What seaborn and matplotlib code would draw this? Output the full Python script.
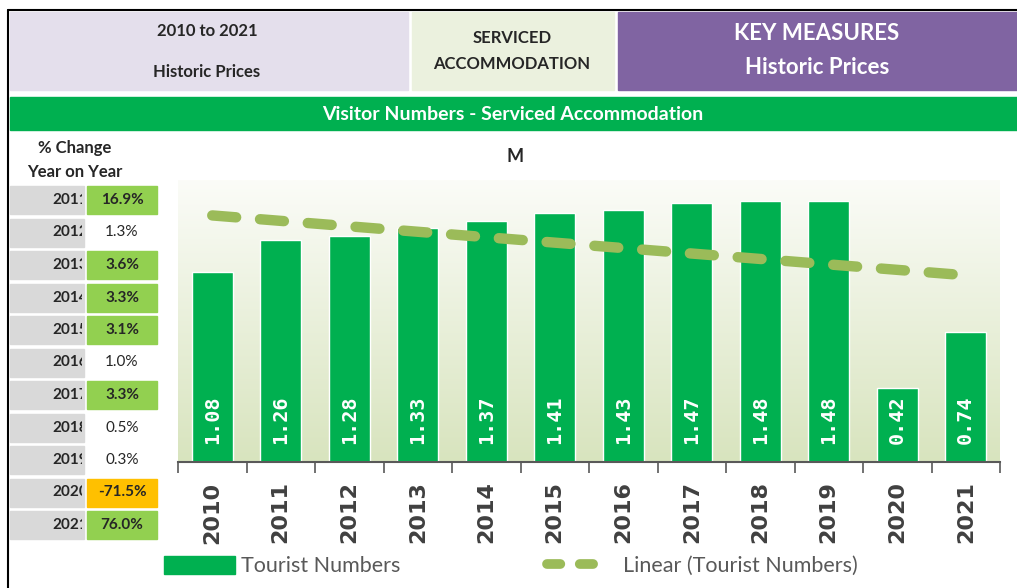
import numpy as np
import pandas as pd
import matplotlib
matplotlib.use("Agg")
import matplotlib.pyplot as plt
from matplotlib.patches import Rectangle, Patch
from matplotlib.lines import Line2D
from matplotlib.colors import LinearSegmentedColormap
import seaborn as sns

sns.set_style("white")

# data
years = ["2010", "2011", "2012", "2013", "2014", "2015", "2016", "2017", "2018", "2019", "2020", "2021"]
tourists = [1.08, 1.26, 1.28, 1.33, 1.37, 1.41, 1.43, 1.47, 1.48, 1.48, 0.42, 0.74]
change_years = ["2011", "2012", "2013", "2014", "2015", "2016", "2017", "2018", "2019", "2020", "2021"]
change_pct = [16.9, 1.3, 3.6, 3.3, 3.1, 1.0, 3.3, 0.5, 0.3, -71.5, 76.0]

GREEN = "#00B050"
LIGHT = "#92D050"
TREND = "#9BBB59"
HEAD = "Lato"

df = pd.DataFrame({"year": years, "tourists": tourists})

fig = plt.figure(figsize=(10.17, 5.88), dpi=100)

# canvas in pixel coords for the header boxes and the % change table
cv = fig.add_axes([0, 0, 1, 1])
cv.set_xlim(0, 1017)
cv.set_ylim(588, 0)
cv.axis("off")

cv.plot([8, 1017], [10, 10], color="black", lw=1.5)
cv.plot([8, 8], [10, 588], color="black", lw=1.5)

cv.add_patch(Rectangle((10, 12), 398, 78, color="#E4DFEC"))
cv.add_patch(Rectangle((412, 12), 202, 78, color="#EBF1DE"))
cv.add_patch(Rectangle((618, 12), 399, 78, color="#8064A2"))
cv.text(207, 31, "2010 to 2021", ha="center", va="center", fontsize=12, fontweight="bold", family=HEAD)
cv.text(207, 72, "Historic Prices", ha="center", va="center", fontsize=12, fontweight="bold", family=HEAD)
cv.text(512, 38, "SERVICED", ha="center", va="center", fontsize=12, fontweight="bold", family=HEAD)
cv.text(512, 64, "ACCOMMODATION", ha="center", va="center", fontsize=12, fontweight="bold", family=HEAD)
cv.text(817, 33, "KEY MEASURES", ha="center", va="center", fontsize=16, fontweight="bold", color="white", family=HEAD)
cv.text(817, 68, "Historic Prices", ha="center", va="center", fontsize=16, fontweight="bold", color="white", family=HEAD)

cv.add_patch(Rectangle((10, 97), 1007, 33, color=GREEN))
cv.text(513, 114, "Visitor Numbers - Serviced Accommodation", ha="center", va="center",
        fontsize=14, fontweight="bold", color="white", family=HEAD)

cv.text(75, 148, "% Change", ha="center", va="center", fontsize=12, fontweight="bold", family=HEAD)
cv.text(75, 172, "Year on Year", ha="center", va="center", fontsize=12, fontweight="bold", family=HEAD)

for i, (yr, pct) in enumerate(zip(change_years, change_pct)):
    yc = 200 + i * 32.5
    gray = Rectangle((10, yc - 14), 74, 28, color="#D9D9D9")
    cv.add_patch(gray)
    t = cv.text(52, yc, yr, ha="left", va="center", fontsize=11, fontweight="bold",
                family=HEAD, clip_on=True)
    t.set_clip_path(Rectangle((10, yc - 14), 72, 28, transform=cv.transData))
    if pct < 0:
        fill, bold = "#FFC000", True
    elif pct >= 3:
        fill, bold = LIGHT, True
    else:
        fill, bold = None, False
    if fill:
        cv.add_patch(Rectangle((87, yc - 14), 70, 28, color=fill))
    cv.text(122, yc, f"{pct:.1f}%", ha="center", va="center", fontsize=11,
            fontweight="bold" if bold else "normal", family=HEAD)

cv.text(515, 157, "M", ha="center", va="center", fontsize=13, fontweight="bold", family=HEAD)

# main chart
ax = fig.add_axes([178 / 1017, (588 - 462) / 588, 822 / 1017, 282 / 588])
grad = LinearSegmentedColormap.from_list("g", ["#D8E4BE", "#FBFCF8"])
ax.imshow(np.linspace(0, 1, 256).reshape(-1, 1), cmap=grad, origin="lower", aspect="auto",
          extent=[-0.5, 11.5, 0, 1.6], zorder=0)

sns.barplot(data=df, x="year", y="tourists", color=GREEN, saturation=1, width=0.6, ax=ax, zorder=2)

xs = np.arange(len(years))
coef = np.polyfit(xs, tourists, 1)
trend = np.polyval(coef, xs)
ax.plot(xs, trend, color=TREND, lw=7.5, dashes=(2.3, 2.3), dash_capstyle="round", zorder=3)

for i, v in enumerate(tourists):
    ax.text(i, 0.1, f"{v:.2f}", rotation=90, ha="center", va="bottom", color="white",
            fontsize=14.5, fontweight="bold", family="DejaVu Sans Mono", zorder=4)

ax.set_xlim(-0.5, 11.5)
ax.set_ylim(0, 1.6)
ax.set_xlabel("")
ax.set_ylabel("")
ax.set_yticks([])
for s in ["top", "right", "left"]:
    ax.spines[s].set_visible(False)
ax.spines["bottom"].set_color("#595959")
ax.spines["bottom"].set_linewidth(1.5)
ax.set_xticks(xs)
ax.set_xticklabels(years, rotation=90, fontsize=16, fontweight="bold", color="#404040")
ax.set_xticks(np.arange(-0.5, 12, 1), minor=True)
ax.tick_params(axis="x", which="major", length=0, pad=14)
ax.tick_params(axis="x", which="minor", length=8, width=1.2, color="#595959", direction="out", bottom=True)

handles = [Patch(color=GREEN),
           Line2D([], [], color=TREND, lw=7, dashes=(1.37, 2.0, 1.37, 12), dash_capstyle="round")]
fig.legend(handles, ["Tourist Numbers", "Linear (Tourist Numbers)"], ncol=2, frameon=False,
           loc="center", bbox_to_anchor=(511 / 1017, 1 - 566 / 588), handlelength=3.3,
           handleheight=0.9, columnspacing=6.8, handletextpad=0.25,
           prop={"family": HEAD, "size": 15.5}, labelcolor="#595959")

fig.savefig("out.png", dpi=100)
